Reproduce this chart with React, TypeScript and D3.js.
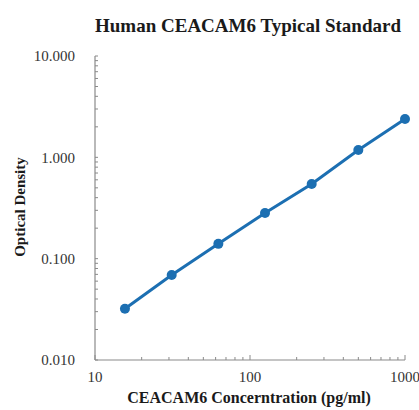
import React from 'react'
import * as d3 from 'd3'

// standard curve readings
const concentrations = [15.6, 31.25, 62.5, 125, 250, 500, 1000]
const densities = [0.032, 0.069, 0.14, 0.282, 0.546, 1.18, 2.39]
const yLabels = ['0.010', '0.100', '1.000', '10.000']
const xLabels = ['10', '100', '1000']

const W = 419
const H = 410
const left = 95
const right = 405
const top = 56
const bottom = 360
const blue = '#1c6fb2'
const axisColor = '#8a8a8a'
const serif = '"Liberation Serif", "Times New Roman", serif'

const App = () => {
    const x = d3.scaleLog().domain([10, 1000]).range([left, right])
    const y = d3.scaleLog().domain([0.01, 10]).range([bottom, top])

    const xTicks = x.ticks()
    const yTicks = y.ticks()
    const line = d3
        .line<number>()
        .x((d, i) => x(concentrations[i]))
        .y(d => y(d))

    return (
        <svg width={W} height={H} style={{ position: 'absolute', left: 0, top: 0 }}>
            <rect width={W} height={H} fill='#fff' />
            <text
                x={248}
                y={32}
                textAnchor='middle'
                fontFamily={serif}
                fontWeight='bold'
                fontSize={19}
                fill='#1a1a1a'
            >
                Human CEACAM6 Typical Standard
            </text>

            {/* axes */}
            <line x1={left} x2={left} y1={top} y2={bottom} stroke={axisColor} strokeWidth={1.2} />
            <line x1={left} x2={right} y1={bottom} y2={bottom} stroke={axisColor} strokeWidth={1.2} />
            {yTicks.map((t, i) => (
                <line
                    key={'yt' + i}
                    x1={left}
                    x2={left + 3}
                    y1={y(t)}
                    y2={y(t)}
                    stroke={axisColor}
                />
            ))}
            {xTicks.map((t, i) => {
                const major = xLabels.includes(String(t))
                return (
                    <line
                        key={'xt' + i}
                        x1={x(t)}
                        x2={x(t)}
                        y1={bottom}
                        y2={bottom - (major ? 5 : 3)}
                        stroke={axisColor}
                    />
                )
            })}
            {yLabels.map(l => (
                <text
                    key={l}
                    x={75}
                    y={y(+l)}
                    dy='0.35em'
                    textAnchor='end'
                    fontFamily={serif}
                    fontSize={15}
                    fill='#333'
                >
                    {l}
                </text>
            ))}
            {xLabels.map(l => (
                <text
                    key={l}
                    x={x(+l)}
                    y={382}
                    textAnchor='middle'
                    fontFamily={serif}
                    fontSize={15}
                    fill='#333'
                >
                    {l}
                </text>
            ))}

            <text
                x={249}
                y={403}
                textAnchor='middle'
                fontFamily={serif}
                fontWeight='bold'
                fontSize={16}
                fill='#1a1a1a'
            >
                CEACAM6 Concerntration (pg/ml)
            </text>
            <text
                transform={`translate(20, 207) rotate(-90)`}
                dy='0.35em'
                textAnchor='middle'
                fontFamily={serif}
                fontWeight='bold'
                fontSize={15}
                fill='#1a1a1a'
            >
                Optical Density
            </text>

            <path d={line(densities) || ''} fill='none' stroke={blue} strokeWidth={3} />
            {densities.map((d, i) => (
                <circle key={i} cx={x(concentrations[i])} cy={y(d)} r={5} fill={blue} />
            ))}
        </svg>
    )
}

export default App
